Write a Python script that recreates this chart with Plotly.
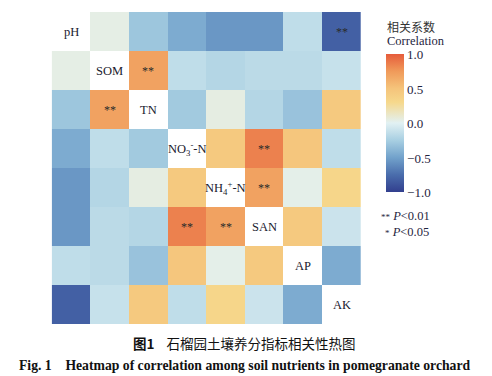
import plotly.graph_objects as go

labels = ["pH", "SOM", "TN", "NO<sub>3</sub><sup>-</sup>-N", "NH<sub>4</sub><sup>+</sup>-N", "SAN", "AP", "AK"]

# correlation matrix (rows/cols in order of labels); diagonal left blank
corr = [
    [None, 0.04, -0.30, -0.45, -0.55, -0.55, -0.15, -0.82],
    [0.04, None, 0.70, -0.15, -0.20, -0.17, -0.17, -0.12],
    [-0.30, 0.70, None, -0.28, 0.05, -0.20, -0.32, 0.45],
    [-0.45, -0.15, -0.28, None, 0.45, 0.85, 0.48, -0.15],
    [-0.55, -0.20, 0.05, 0.45, None, 0.70, 0.03, 0.32],
    [-0.55, -0.17, -0.20, 0.85, 0.70, None, 0.45, -0.10],
    [-0.15, -0.17, -0.32, 0.48, 0.03, 0.45, None, -0.45],
    [-0.82, -0.12, 0.45, -0.15, 0.32, -0.10, -0.45, None],
]

# significance marks: (row, col, mark)
sig = [
    (0, 7, "**"),
    (1, 2, "**"), (2, 1, "**"),
    (3, 5, "**"), (5, 3, "**"),
    (4, 5, "**"), (5, 4, "**"),
]

colorscale = [
    [0.0, "#323f8e"],
    [0.125, "#4a6dac"],
    [0.25, "#72a2cb"],
    [0.375, "#a8cfe2"],
    [0.5, "#e2f1f3"],
    [0.65, "#f6d88c"],
    [0.75, "#f5c47b"],
    [0.875, "#f09a5a"],
    [1.0, "#e65c3b"],
]

n = len(labels)
OFF = 8  # page body margin
W, H = 492 - OFF, 376 - OFF


def px(x):
    return (x - OFF) / W


def py(y):
    return 1 - (y - OFF) / H


x0, x1 = 51.7, 361.0
y0, y1 = 12.0, 324.0

fig = go.Figure()
fig.add_trace(go.Heatmap(
    z=corr,
    x=list(range(n)),
    y=list(range(n)),
    zmin=-1, zmax=1,
    colorscale=colorscale,
    xgap=0, ygap=0,
    hoverongaps=False,
    colorbar=dict(
        x=px(385.5), xanchor="left",
        y=py(123.5), yanchor="middle",
        len=138, lenmode="pixels",
        thickness=18, thicknessmode="pixels",
        outlinewidth=0,
        tickvals=[-1, -0.5, 0, 0.5, 1],
        ticktext=["\u22121.0", "\u22120.5", "0.0", "0.5", "1.0"],
        ticks="", ticklabelposition="outside",
        tickfont=dict(family="Liberation Serif", size=13, color="#1f2540"),
        xpad=0, ypad=0,
    ),
))

annotations = []
for i, lab in enumerate(labels):
    annotations.append(dict(x=i, y=i, xref="x", yref="y", text=lab, showarrow=False,
                            font=dict(family="Liberation Serif", size=12.5, color="#1a1a2e")))
for r, c, m in sig:
    annotations.append(dict(x=c, y=r, xref="x", yref="y", text=m, showarrow=False,
                            font=dict(family="Liberation Serif", size=12, color="#2a2a2a")))

# colorbar title
annotations.append(dict(x=px(385), y=py(26), xref="paper", yref="paper", xanchor="left", yanchor="middle",
                        text="相关系数", showarrow=False,
                        font=dict(family="Noto Sans CJK SC", size=12, color="#333333")))
annotations.append(dict(x=px(385), y=py(41), xref="paper", yref="paper", xanchor="left", yanchor="middle",
                        text="Correlation", showarrow=False,
                        font=dict(family="Liberation Serif", size=12.5, color="#1f2540")))
# significance legend
annotations.append(dict(x=px(379), y=py(216), xref="paper", yref="paper", xanchor="left", yanchor="middle",
                        text="<span style='font-size:9px'>**</span> <i>P</i>&lt;0.01", showarrow=False,
                        font=dict(family="Liberation Serif", size=12.5, color="#1f2540")))
annotations.append(dict(x=px(383), y=py(232), xref="paper", yref="paper", xanchor="left", yanchor="middle",
                        text="<span style='font-size:9px'>*</span> <i>P</i>&lt;0.05", showarrow=False,
                        font=dict(family="Liberation Serif", size=12.5, color="#1f2540")))
# captions
annotations.append(dict(x=px(244), y=py(343), xref="paper", yref="paper", xanchor="center", yanchor="middle",
                        text="<b>图1</b>    石榴园土壤养分指标相关性热图", showarrow=False,
                        font=dict(family="Noto Sans CJK SC", size=13.5, color="#111111")))
annotations.append(dict(x=px(244.5), y=py(365), xref="paper", yref="paper", xanchor="center", yanchor="middle",
                        text="<b>Fig. 1    Heatmap of correlation among soil nutrients in pomegranate orchard</b>",
                        showarrow=False,
                        font=dict(family="Liberation Serif", size=13.7, color="#111111")))

fig.update_layout(
    width=W, height=H,
    margin=dict(l=0, r=0, t=0, b=0),
    paper_bgcolor="white", plot_bgcolor="white",
    xaxis=dict(domain=[px(x0), px(x1)], range=[-0.5, n - 0.5], visible=False, fixedrange=True),
    yaxis=dict(domain=[py(y1), py(y0)], range=[n - 0.5, -0.5], visible=False, fixedrange=True),
    annotations=annotations,
    showlegend=False,
)

fig.write_html("out.html")
